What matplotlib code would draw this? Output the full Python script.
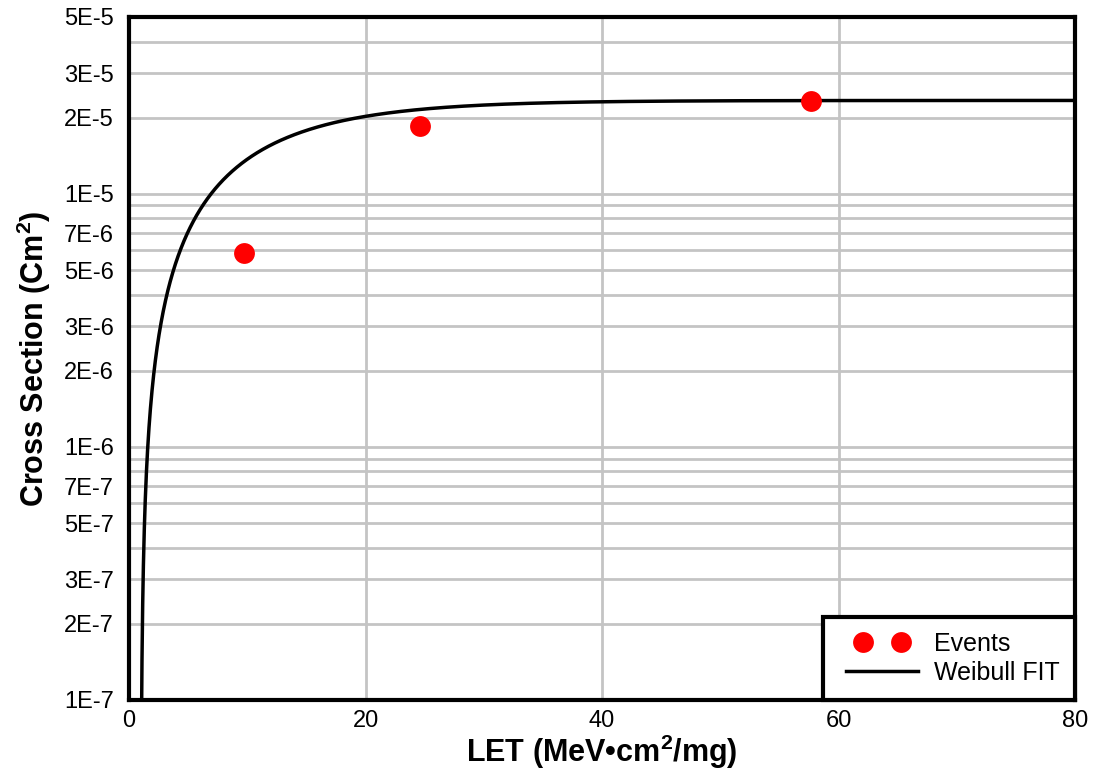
import numpy as np
import matplotlib
matplotlib.use("Agg")
import matplotlib.pyplot as plt
from matplotlib.ticker import FixedLocator, NullLocator
from matplotlib.legend_handler import HandlerLine2D

plt.rcParams["font.family"] = ["Liberation Sans", "DejaVu Sans"]
plt.rcParams["mathtext.fontset"] = "custom"
plt.rcParams["mathtext.rm"] = "Liberation Sans"
plt.rcParams["mathtext.bf"] = "Liberation Sans:bold"

# Messpunkte
let_events = [9.7, 24.6, 57.7]
xs_events = [5.85e-6, 1.85e-5, 2.33e-5]

# Weibull-Parameter
sat = 2.34e-5
onset = 1.0
width = 10.1
shape = 1.1

# Achsen-Ticks
ytick_vals = [1e-7, 2e-7, 3e-7, 5e-7, 7e-7, 1e-6, 2e-6, 3e-6, 5e-6, 7e-6,
              1e-5, 2e-5, 3e-5, 5e-5]
ytick_labels = ["1E-7", "2E-7", "3E-7", "5E-7", "7E-7", "1E-6", "2E-6", "3E-6",
                "5E-6", "7E-6", "1E-5", "2E-5", "3E-5", "5E-5"]
xtick_vals = [0, 20, 40, 60, 80]

let_fit = np.linspace(onset + 1e-4, 80, 4000)
xs_fit = sat * (1 - np.exp(-((let_fit - onset) / width) ** shape))

fig = plt.figure(figsize=(10.96, 7.83), dpi=100)
ax = fig.add_axes([129 / 1096, 1 - 700 / 783, (1075 - 129) / 1096, (700 - 17) / 783])

ax.set_yscale("log")
ax.set_xlim(0, 80)
ax.set_ylim(1e-7, 5e-5)

# Gitter: alle 1..9 pro Dekade
grid_vals = [m * 10.0 ** e for e in (-7, -6, -5) for m in range(1, 10) if m * 10.0 ** e <= 5e-5]
for g in grid_vals:
    ax.axhline(g, color="#c4c4c4", lw=2, zorder=0)
for gx in xtick_vals[1:-1]:
    ax.axvline(gx, color="#c4c4c4", lw=2, zorder=0)

ax.plot(let_fit, xs_fit, color="black", lw=2.5, label="Weibull FIT", zorder=2)
ev, = ax.plot(let_events, xs_events, "o", color="#ff0000", ms=15, mec="none", label="Events", zorder=3)

ax.yaxis.set_major_locator(FixedLocator(ytick_vals))
ax.yaxis.set_minor_locator(NullLocator())
ax.set_yticklabels(ytick_labels)
ax.set_xticks(xtick_vals)
ax.tick_params(axis="y", length=0, labelsize=17, pad=11)
ax.tick_params(axis="x", length=0, labelsize=17, pad=7)

for s in ax.spines.values():
    s.set_linewidth(3)

ax.set_xlabel(r"LET (MeV•cm$\mathbf{^2}$/mg)", fontsize=22, fontweight="bold", labelpad=1)
ax.set_ylabel(r"Cross Section (Cm$\mathbf{^2}$)", fontsize=22, fontweight="bold", labelpad=8)

handles, labels = ax.get_legend_handles_labels()
leg = ax.legend(handles[::-1], labels[::-1], loc="lower right", numpoints=2, fontsize=18,
                fancybox=False, framealpha=1, borderaxespad=0, handlelength=3.5,
                borderpad=0.6, labelspacing=0.2, handletextpad=0.35,
                handler_map={ev: HandlerLine2D(marker_pad=1.0)})
leg.get_frame().set_edgecolor("black")
leg.get_frame().set_linewidth(3)

fig.savefig("out.png", dpi=100)
